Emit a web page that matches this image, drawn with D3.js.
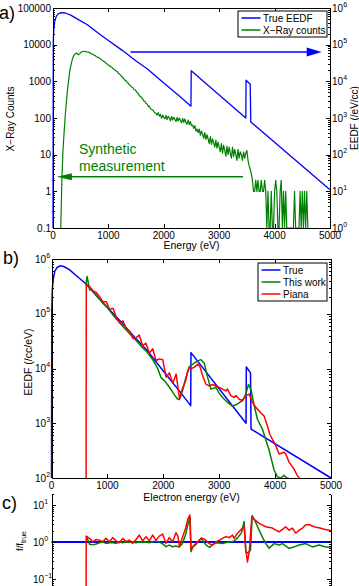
<!DOCTYPE html>
<html>
<head>
<meta charset="utf-8">
<title>EEDF reconstruction</title>
<style>
body { margin: 0; background-color: white; }
svg { display: block; font-family: 'Liberation Sans', Arial, sans-serif; }
.axis path, .axis line { stroke: black; stroke-width: 1; shape-rendering: crispEdges; }
.curve { fill: none; stroke-linejoin: round; }
</style>
<script src="https://cdn.jsdelivr.net/npm/d3@7"></script>
</head>
<body>
<script>
// ---------- data ----------
var energyTicks = [0, 1000, 2000, 3000, 4000, 5000];
var countTicks = [0.1, 1, 10, 100, 1000, 10000, 100000];
var countLabels = ['0.1', '1', '10', '100', '1000', '10000', '100000'];
var eedfExpA = [0, 1, 2, 3, 4, 5, 6];
var eedfExpB = [2, 3, 4, 5, 6];
var ratioExp = [-1, 0, 1];

// true EEDF [eV, /eV/cc]
var trueEEDF = [
    [0, 0], [5, 1.2e5], [15, 2.8e5], [30, 4.2e5], [60, 6.0e5], [100, 7.0e5], [150, 7.5e5],
    [220, 7.3e5], [320, 6.4e5], [450, 4.9e5], [620, 3.5e5], [850, 1.9e5], [1000, 1.3e5],
    [1250, 7.0e4], [1500, 3.6e4], [1700, 2.2e4], [2000, 9.0e3], [2286, 3.9e3], [2490, 2.1e3],
    [2495, 1.95e4], [3480, 1.0e3], [3485, 1.07e4], [3560, 8.3e3], [3570, 780], [5000, 11]
];

// synthetic x-ray counts, one bin every 20 eV starting at 140 eV
var xrayStart = 140, xrayStep = 20;
var xrayCounts = [
    0, 2, 13, 40, 110, 250, 560, 1000, 1750, 2600, 3500, 4500, 5200, 5600, 5900, 5700, 5250, 5600, 6100, 6400, 6500, 6550, 6500,
    6450, 6300, 6250, 6050, 5900, 5500, 5450, 5200, 5050, 4750, 4570, 4500, 4250, 4100, 3850, 3630, 3500, 3350, 3050, 2950, 2750,
    2700, 2500, 2450, 2250, 2140, 2050, 1900, 1850, 1650, 1580, 1480, 1350, 1300, 1150, 1070, 1030, 920, 880, 790, 760,
    700, 680, 600, 590, 540, 490, 470, 400, 390, 355, 330, 290, 285, 250, 240, 205, 210, 180, 170, 166,
    150, 138, 135, 120, 140, 112, 125, 98, 120, 104, 95, 118, 90, 112, 100, 84, 110, 88, 105, 92,
    80, 104, 82, 100, 85, 74, 98, 76, 94, 75, 68, 88, 66, 80, 62, 64, 52, 62, 44, 50,
    40, 50, 34, 44, 36, 28, 40, 26, 35, 27, 20, 31, 19, 27, 21, 16, 25, 15, 22, 16,
    12, 20, 11, 18, 13, 9, 17, 10, 16, 11, 8, 16, 9, 14, 10, 7, 14, 8, 12, 10,
    7, 12, 8, 11, 13, 7, 5, 4, 3, 2, 1,
    1, 2, 1, 2, 1, 1, 2, 1, 1, 2, 1, 0, 1, 0, 0, 1, 0, 0, 1, 2,
    1, 0, 0, 1, 2, 0, 1, 0, 1, 0, 0, 0, 0, 0, 0, 0, 1, 0, 0, 0,
    0, 1, 0, 1, 0, 1, 0, 1, 0
];

// reconstructed EEDFs [eV, /cc/eV]
var thisWork = [
    [615, 3.3e5], [637, 4.8e5], [680, 2.75e5], [720, 2.7e5], [780, 2.3e5], [850, 1.9e5], [920, 1.55e5],
    [990, 1.32e5], [1060, 1.07e5], [1130, 8.7e4], [1200, 7.2e4], [1270, 6.0e4], [1340, 5.0e4],
    [1410, 4.2e4], [1480, 3.55e4], [1550, 2.95e4], [1620, 2.45e4], [1690, 2.1e4], [1760, 1.7e4],
    [1830, 1.35e4], [1900, 1.0e4], [1960, 6.8e3], [2020, 6.0e3], [2080, 5.0e3], [2140, 4.1e3],
    [2200, 3.3e3], [2250, 2.8e3], [2286, 2.7e3], [2340, 3.8e3], [2400, 6.6e3], [2464, 1.07e4],
    [2554, 1.26e4], [2620, 1.38e4], [2673, 1.45e4], [2732, 1.26e4], [2790, 7.1e3], [2851, 4.2e3],
    [2940, 4.5e3], [3000, 3.55e3], [3060, 2.95e3], [3150, 2.4e3], [3238, 2.05e3], [3327, 2.25e3],
    [3417, 2.6e3], [3476, 3.4e3], [3524, 5.1e3], [3566, 4.2e3], [3620, 2.25e3], [3685, 1.17e3],
    [3774, 780], [3893, 320], [3982, 140], [4041, 105], [4101, 100], [4161, 112], [4202, 100], [4240, 63]
];
var piana = [
    [619, 0], [622, 3.4e5], [680, 3.15e5], [740, 2.65e5], [800, 2.45e5], [860, 2.05e5], [920, 1.65e5],
    [980, 1.65e5], [1040, 1.2e5], [1100, 1.26e5], [1160, 8.5e4], [1220, 6.8e4], [1280, 7.4e4],
    [1340, 5.2e4], [1400, 4.8e4], [1460, 3.5e4], [1520, 3.7e4], [1570, 4.1e4], [1630, 2.6e4],
    [1690, 2.9e4], [1750, 1.9e4], [1810, 2.3e4], [1870, 1.4e4], [1930, 1.5e4], [1990, 1.45e4],
    [2050, 6.9e3], [2110, 8.3e3], [2170, 5.4e3], [2230, 7.9e3], [2290, 2.8e3], [2340, 4.2e3],
    [2400, 6.0e3], [2440, 9.1e3], [2470, 1.05e4], [2500, 1.0e4], [2550, 1.05e4], [2620, 1.2e4],
    [2660, 1.05e4], [2700, 7.6e3], [2760, 5.2e3], [2821, 4.8e3], [2881, 5.1e3], [2940, 4.8e3],
    [3000, 4.5e3], [3060, 4.2e3], [3119, 3.9e3], [3149, 4.2e3], [3208, 3.2e3], [3268, 2.95e3],
    [3298, 3.2e3], [3357, 2.75e3], [3417, 2.6e3], [3476, 3.2e3], [3536, 3.4e3], [3595, 2.4e3],
    [3655, 1.95e3], [3744, 1.55e3], [3804, 1.35e3], [3863, 890], [3905, 630], [4012, 390],
    [4071, 275], [4161, 295], [4190, 275], [4250, 195], [4339, 145], [4398, 110], [4440, 79]
];

// ratio to the true EEDF
var ratioTrue = [[0, 1], [5000, 1]];
var ratioThisWork = [
    [625, 1.45], [679, 0.87], [738, 0.84], [798, 0.89], [857, 0.96], [917, 1.0], [976, 0.92],
    [1036, 0.96], [1095, 0.98], [1155, 0.92], [1214, 1.0], [1274, 0.96], [1333, 1.02], [1393, 0.98],
    [1452, 1.0], [1512, 0.96], [1571, 1.02], [1631, 0.98], [1690, 1.0], [1750, 0.96], [1810, 1.02],
    [1869, 1.08], [1929, 1.0], [1988, 0.89], [2048, 0.75], [2107, 0.83], [2167, 0.75], [2226, 0.78],
    [2286, 0.74], [2340, 0.9], [2400, 1.6], [2440, 3.0], [2480, 4.6], [2495, 0.55], [2530, 0.75],
    [2580, 0.85], [2640, 1.1], [2680, 1.3], [2720, 1.0], [2780, 0.8], [2830, 0.72], [2880, 0.85],
    [2940, 0.95], [3000, 0.95], [3060, 0.92], [3120, 0.98], [3200, 1.0], [3260, 1.05], [3330, 1.3],
    [3400, 1.8], [3446, 3.6], [3476, 0.55], [3500, 0.5], [3536, 0.55], [3560, 0.6], [3590, 5.2],
    [3650, 3.5], [3714, 2.1], [3780, 1.3], [3833, 0.91], [3893, 0.68], [3982, 0.91], [4071, 0.83],
    [4131, 0.91], [4250, 0.68], [4339, 0.74], [4429, 0.83], [4548, 0.91], [4667, 0.74], [4786, 0.83],
    [4905, 0.74], [5000, 0.74]
];
var ratioPiana = [
    [619, 0], [621, 1.45], [679, 1.26], [738, 1.02], [798, 1.18], [857, 1.13], [917, 1.02], [976, 1.26],
    [1036, 1.02], [1095, 1.32], [1155, 1.08], [1214, 0.96], [1274, 1.26], [1333, 1.02], [1393, 1.13],
    [1452, 0.92], [1512, 1.18], [1571, 1.55], [1631, 1.08], [1690, 1.40], [1750, 1.08], [1810, 1.55],
    [1869, 1.13], [1929, 1.45], [1988, 1.65], [2048, 0.92], [2107, 1.32], [2167, 1.02], [2226, 1.80],
    [2260, 1.45], [2290, 0.75], [2340, 1.3], [2400, 2.4], [2440, 4.2], [2475, 5.4], [2494, 0.63],
    [2554, 0.83], [2643, 1.12], [2702, 1.26], [2760, 1.12], [2821, 0.91], [2881, 0.83], [2940, 1.0],
    [3000, 1.12], [3060, 1.26], [3119, 1.41], [3178, 1.32], [3238, 1.55], [3268, 1.26], [3327, 1.74],
    [3387, 2.14], [3446, 2.63], [3476, 0.60], [3506, 0.29], [3540, 0.60], [3583, 4.8], [3620, 4.2],
    [3714, 3.2], [3833, 2.6], [3952, 2.4], [4012, 2.1], [4071, 1.9], [4130, 2.2], [4190, 2.6],
    [4250, 2.1], [4310, 2.4], [4369, 1.74], [4430, 2.1], [4490, 2.4], [4548, 2.95], [4610, 2.95],
    [4700, 2.6], [4800, 2.4], [4900, 2.2], [5000, 2.05]
];

// ---------- drawing ----------
var width = 359, height = 586;
var BLUE = '#0000ff', GREEN = '#008000', RED = '#ff0000';

var svg = d3.select('body').append('svg')
    .attr('width', width)
    .attr('height', height);

var isMajor = function (d) {
    var l = Math.log10(d);
    return Math.abs(l - Math.round(l)) < 1e-6;
};

// inward ticks on a log axis, majors long and minors short
var logAxis = function (g, scale, x, side) {
    var make = side === 'left' ? d3.axisLeft : d3.axisRight;
    var all = scale.ticks();
    g.append('g').attr('class', 'axis').attr('transform', 'translate(' + x + ',0)')
        .call(make(scale).tickValues(all.filter(function (d) { return !isMajor(d); }))
            .tickSize(-2).tickSizeOuter(0).tickFormat(''));
    g.append('g').attr('class', 'axis').attr('transform', 'translate(' + x + ',0)')
        .call(make(scale).tickValues(all.filter(isMajor))
            .tickSize(-4).tickSizeOuter(0).tickFormat(''));
};

var energyAxis = function (g, x, y, top) {
    g.append('g').attr('class', 'axis').attr('transform', 'translate(0,' + y + ')')
        .call((top ? d3.axisTop(x) : d3.axisBottom(x)).tickValues(energyTicks)
            .tickSize(-4).tickSizeOuter(0).tickFormat(''));
};

var powLabel = function (sel, e) {
    sel.append('tspan').text('10');
    sel.append('tspan').attr('dy', -5).attr('font-size', 7).text(e < 0 ? '\u2212' + (-e) : e);
};

var curve = function (g, data, x, y, floor, color, w) {
    g.append('path')
        .datum(data)
        .attr('class', 'curve')
        .attr('stroke', color)
        .attr('stroke-width', w)
        .attr('d', d3.line()
            .x(function (d) { return x(d[0]); })
            .y(function (d) { return y(Math.max(d[1], floor)); }));
};

var legend = function (g, x0, y0, w, items) {
    g.append('rect').attr('x', x0).attr('y', y0).attr('width', w).attr('height', items.length * 12 + 2)
        .attr('fill', 'white').attr('stroke', 'black').attr('stroke-width', 1);
    items.forEach(function (it, i) {
        var yy = y0 + 7 + i * 12;
        g.append('line').attr('x1', x0 + 3.5).attr('x2', x0 + 22.5).attr('y1', yy).attr('y2', yy)
            .attr('stroke', it[1]).attr('stroke-width', 1.5);
        g.append('text').attr('x', x0 + 25).attr('y', yy + 3.5).attr('font-size', 10).text(it[0]);
    });
};

var panelLetter = function (txt, x, y) {
    svg.append('text').attr('x', x).attr('y', y).attr('font-size', 18).text(txt);
};

// ===== panel a =====
var a = svg.append('g');
var xA = d3.scaleLinear().domain([0, 5000]).range([53, 330]);
var yCounts = d3.scaleLog().domain([0.1, 1e5]).range([228, 8]).clamp(true);
var yEedfA = d3.scaleLog().domain([1, 1e6]).range([228, 8]).clamp(true);

var xrayData = xrayCounts.map(function (c, i) { return [xrayStart + i * xrayStep, c]; });

curve(a, trueEEDF, xA, yEedfA, 1, BLUE, 1.3);
curve(a, xrayData, xA, yCounts, 0.1, GREEN, 1.2);

energyAxis(a, xA, 228, false);
energyAxis(a, xA, 8, true);
logAxis(a, yCounts, 53, 'left');
logAxis(a, yEedfA, 330, 'right');

a.selectAll('.ylab').data(countTicks).enter().append('text')
    .attr('x', 51).attr('y', function (d) { return yCounts(d) + 3.5; })
    .attr('text-anchor', 'end').attr('font-size', 10)
    .text(function (d, i) { return countLabels[i]; });
a.selectAll('.rlab').data(eedfExpA).enter().append('text')
    .attr('x', 332).attr('y', function (d) { return yEedfA(Math.pow(10, d)) + 3.5; })
    .attr('font-size', 10)
    .each(function (d) { powLabel(d3.select(this), d); });
a.selectAll('.xlab').data(energyTicks).enter().append('text')
    .attr('x', function (d) { return xA(d); }).attr('y', 239)
    .attr('text-anchor', 'middle').attr('font-size', 10)
    .text(function (d) { return d; });

a.append('text').attr('x', 191.5).attr('y', 249).attr('text-anchor', 'middle')
    .attr('font-size', 10.5).text('Energy (eV)');
a.append('text').attr('transform', 'translate(14,119) rotate(-90)').attr('text-anchor', 'middle')
    .attr('font-size', 10).text('X\u2212Ray Counts');
a.append('text').attr('transform', 'translate(357.5,118) rotate(-90)').attr('text-anchor', 'middle')
    .attr('font-size', 10).text('EEDF (/eV/cc)');

// arrows
var blueArrow = { from: 1400, to: 4850, level: 6.3e4 };
var greenArrow = { from: 3430, to: 70, level: 2.5 };
var by = yEedfA(blueArrow.level), bx = xA(blueArrow.to);
a.append('line').attr('x1', xA(blueArrow.from)).attr('x2', bx - 14).attr('y1', by).attr('y2', by)
    .attr('stroke', BLUE).attr('stroke-width', 1.5);
a.append('path').attr('d', 'M' + bx + ',' + by + 'l-15,-4.5l0,9z').attr('fill', BLUE);
var gy = yCounts(greenArrow.level), gx = xA(greenArrow.to);
a.append('line').attr('x1', xA(greenArrow.from)).attr('x2', gx + 14).attr('y1', gy).attr('y2', gy)
    .attr('stroke', GREEN).attr('stroke-width', 1.5);
a.append('path').attr('d', 'M' + gx + ',' + gy + 'l15,-3.5l0,7z').attr('fill', GREEN);
a.append('text').attr('x', 79).attr('y', 154).attr('font-size', 14).attr('fill', GREEN).text('Synthetic');
a.append('text').attr('x', 79).attr('y', 171).attr('font-size', 14).attr('fill', GREEN).text('measurement');

legend(a, 238, 11, 89, [['True EEDF', BLUE], ['X\u2212Ray counts', GREEN]]);
panelLetter('a)', -1, 19);

// ===== panel b =====
var b = svg.append('g');
var xB = d3.scaleLinear().domain([0, 5000]).range([51.5, 331]);
var yB = d3.scaleLog().domain([1e2, 1e6]).range([478, 259]).clamp(true);

curve(b, trueEEDF, xB, yB, 100, BLUE, 1.5);
curve(b, thisWork, xB, yB, 100, GREEN, 1.5);
curve(b, piana, xB, yB, 100, RED, 1.5);

energyAxis(b, xB, 478, false);
energyAxis(b, xB, 259, true);
logAxis(b, yB, 51.5, 'left');
logAxis(b, yB, 331, 'right');

b.selectAll('.ylab').data(eedfExpB).enter().append('text')
    .attr('x', 35).attr('y', function (d) { return yB(Math.pow(10, d)) + 3.5; })
    .attr('font-size', 10)
    .each(function (d) { powLabel(d3.select(this), d); });
b.selectAll('.xlab').data(energyTicks).enter().append('text')
    .attr('x', function (d) { return xB(d); }).attr('y', 489)
    .attr('text-anchor', 'middle').attr('font-size', 10)
    .text(function (d) { return d; });
b.append('text').attr('x', 191.5).attr('y', 501).attr('text-anchor', 'middle')
    .attr('font-size', 10.5).text('Electron energy (eV)');
b.append('text').attr('transform', 'translate(32,362) rotate(-90)').attr('text-anchor', 'middle')
    .attr('font-size', 10.5).text('EEDF (/cc/eV)');

legend(b, 258, 263, 69, [['True', BLUE], ['This work', GREEN], ['Piana', RED]]);
panelLetter('b)', 3, 264);

// ===== panel c =====
var c = svg.append('g');
var yC = d3.scaleLog().domain([1e-2, 20]).range([616, 494]).clamp(true);

curve(c, ratioTrue, xB, yC, 0.01, BLUE, 2);
curve(c, ratioThisWork, xB, yC, 0.01, GREEN, 1.5);
curve(c, ratioPiana, xB, yC, 0.01, RED, 1.5);

logAxis(c, yC, 51.5, 'left');
logAxis(c, yC, 331, 'right');

c.selectAll('.ylab').data(ratioExp).enter().append('text')
    .attr('x', 33).attr('y', function (d) { return yC(Math.pow(10, d)) + 3.5; })
    .attr('font-size', 10)
    .each(function (d) { powLabel(d3.select(this), d); });

var fl = c.append('text').attr('transform', 'translate(23,541) rotate(-90)').attr('text-anchor', 'middle')
    .attr('font-size', 9.5);
fl.append('tspan').text('f/f');
fl.append('tspan').attr('dy', 2.5).attr('font-size', 7).text('true');

panelLetter('c)', 2, 509);
</script>
</body>
</html>
